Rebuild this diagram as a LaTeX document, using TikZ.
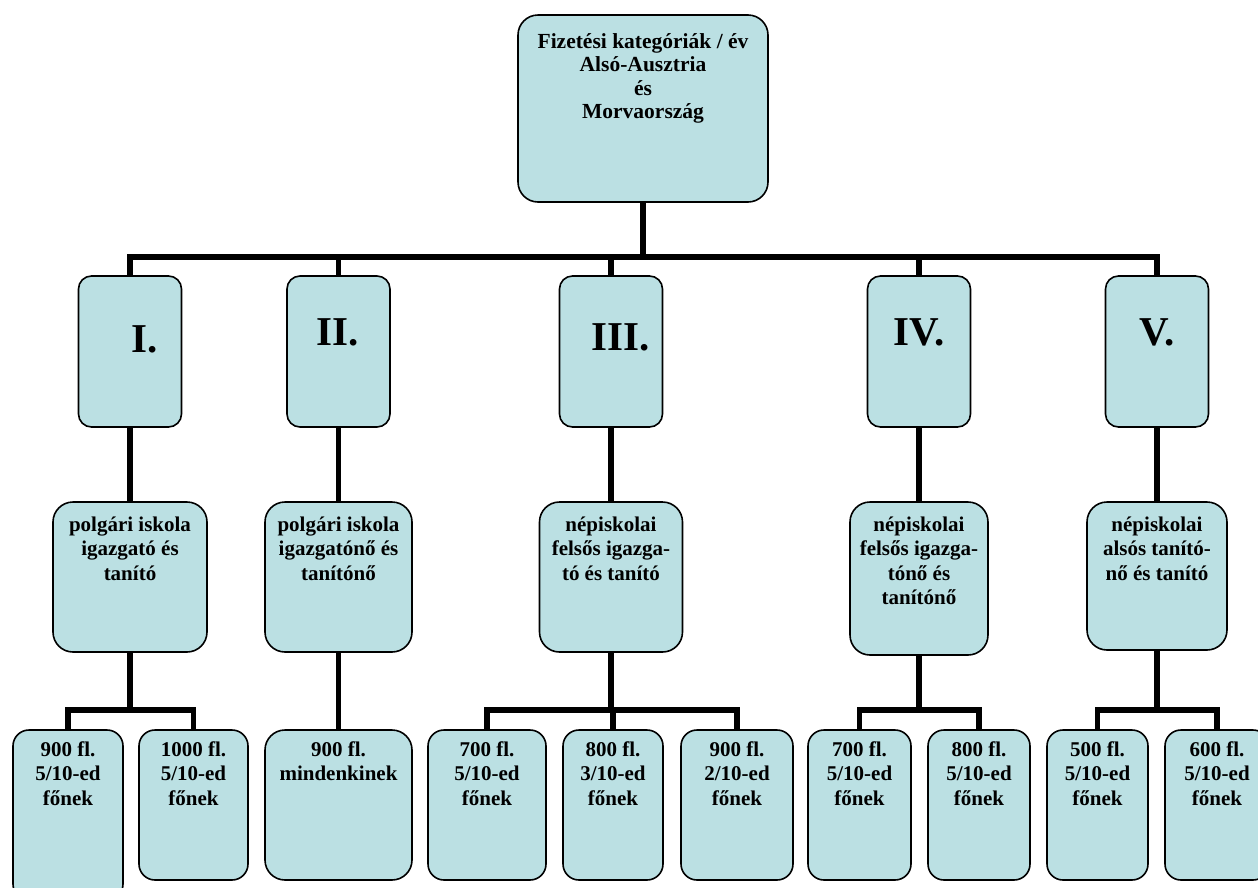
\documentclass[tikz,border=0pt]{standalone}
\usepackage{fontspec}
\setmainfont{Liberation Serif}
\usetikzlibrary{positioning}
\definecolor{boxfill}{HTML}{BBE0E3}
\tikzset{
  box/.style={rectangle, rounded corners=16pt, draw=black, line width=1.6pt, fill=boxfill, minimum height=150pt},
  cat/.style={box, rounded corners=13pt, minimum width=103pt, minimum height=151pt},
  txt/.style={inner sep=0pt, align=center, font=\fontsize{21}{24.5}\selectfont\bfseries},
  num/.style={inner sep=0pt, anchor=base, font=\fontsize{41}{45}\selectfont\bfseries},
  connect/.style={line width=5.5pt, line join=miter}
}
\begin{document}
\begin{tikzpicture}[x=1pt, y=-1pt]
  \useasboundingbox (0,0) rectangle (1258,887);
  % root
  \node[box, rounded corners=20pt, minimum width=250pt, minimum height=187pt] (root) at (643,108.5) {};
  \node[txt, font=\fontsize{21.5}{23.5}\selectfont\bfseries, below=19pt of root.north] (root_t) {Fizetési kategóriák / év\\Alsó-Ausztria\\és\\Morvaország};
  \coordinate (bus) at (643,257);
  \draw[connect, line width=6.5pt] (root) -- (bus);
  % categories
  \foreach \i/\x in {1/130,2/338.5,3/611,4/919,5/1157} {
    \node[cat] (r\i) at (\x,351.5) {};
    \draw[connect] (r\i.north) |- (bus);
  }
  \node[num] (n1) at (145,352) {I.};
  \node[num] (n2) at (338,345) {II.};
  \node[num] (n3) at (621,350) {III.};
  \node[num] (n4) at (919,345) {IV.};
  \node[num] (n5) at (1157,345) {V.};
  % teachers
  \node[box, rounded corners=20pt, minimum width=154pt] (k1) at (130,577) {};
  \node[box, rounded corners=20pt, minimum width=147pt] (k2) at (338.5,577) {};
  \node[box, rounded corners=20pt, minimum width=143pt] (k3) at (611,577) {};
  \node[box, rounded corners=20pt, minimum width=138pt, minimum height=153pt] (k4) at (919,578.5) {};
  \node[box, rounded corners=20pt, minimum width=140pt, minimum height=148pt] (k5) at (1157,576) {};
  \node[txt, below=15pt of k1.north] (k1_t) {polgári iskola\\igazgató és\\tanító};
  \node[txt, below=15pt of k2.north] (k2_t) {polgári iskola\\igazgatónő és\\tanítónő};
  \node[txt, below=15pt of k3.north] (k3_t) {népiskolai\\felsős igazga-\\tó és tanító};
  \node[txt, below=15pt of k4.north] (k4_t) {népiskolai\\felsős igazga-\\tónő és\\tanítónő};
  \node[txt, below=15pt of k5.north] (k5_t) {népiskolai\\alsós tanító-\\nő és tanító};
  \foreach \i in {1,...,5}
    \draw[connect] (r\i) -- (k\i);
  % salaries
  \node[box, minimum width=110pt, minimum height=170pt] (p1) at (68,815) {};
  \node[box, minimum width=109pt] (p2) at (193.5,805) {};
  \node[box, rounded corners=20pt, minimum width=147pt] (p3) at (338.5,805) {};
  \node[box, minimum width=118pt] (p4) at (487,805) {};
  \node[box, minimum width=100pt] (p5) at (613,805) {};
  \node[box, minimum width=112pt] (p6) at (737,805) {};
  \node[box, minimum width=103pt] (p7) at (859.5,805) {};
  \node[box, minimum width=102pt] (p8) at (979,805) {};
  \node[box, minimum width=101pt] (p9) at (1097.5,805) {};
  \node[box, minimum width=104pt] (p10) at (1217,805) {};
  \node[txt, below=12pt of p1.north] (p1_t) {900 fl.\\5/10-ed\\főnek};
  \node[txt, below=12pt of p2.north] (p2_t) {1000 fl.\\5/10-ed\\főnek};
  \node[txt, below=12pt of p3.north] (p3_t) {900 fl.\\mindenkinek};
  \node[txt, below=12pt of p4.north] (p4_t) {700 fl.\\5/10-ed\\főnek};
  \node[txt, below=12pt of p5.north] (p5_t) {800 fl.\\3/10-ed\\főnek};
  \node[txt, below=12pt of p6.north] (p6_t) {900 fl.\\2/10-ed\\főnek};
  \node[txt, below=12pt of p7.north] (p7_t) {700 fl.\\5/10-ed\\főnek};
  \node[txt, below=12pt of p8.north] (p8_t) {800 fl.\\5/10-ed\\főnek};
  \node[txt, below=12pt of p9.north] (p9_t) {500 fl.\\5/10-ed\\főnek};
  \node[txt, below=12pt of p10.north] (p10_t) {600 fl.\\5/10-ed\\főnek};
  % branches
  \coordinate (s1) at (130,710);
  \coordinate (s3) at (611,710);
  \coordinate (s4) at (919,710);
  \coordinate (s5) at (1157,710);
  \draw[connect] (k1) -- (s1);
  \draw[connect] (p1.north) |- (s1);
  \draw[connect] (p2.north) |- (s1);
  \draw[connect] (k2) -- (p3);
  \draw[connect] (k3) -- (s3);
  \foreach \j in {4,5,6}
    \draw[connect] (p\j.north) |- (s3);
  \draw[connect] (k4) -- (s4);
  \draw[connect] (p7.north) |- (s4);
  \draw[connect] (p8.north) |- (s4);
  \draw[connect] (k5) -- (s5);
  \draw[connect] (p9.north) |- (s5);
  \draw[connect] (p10.north) |- (s5);
\end{tikzpicture}
\end{document}
